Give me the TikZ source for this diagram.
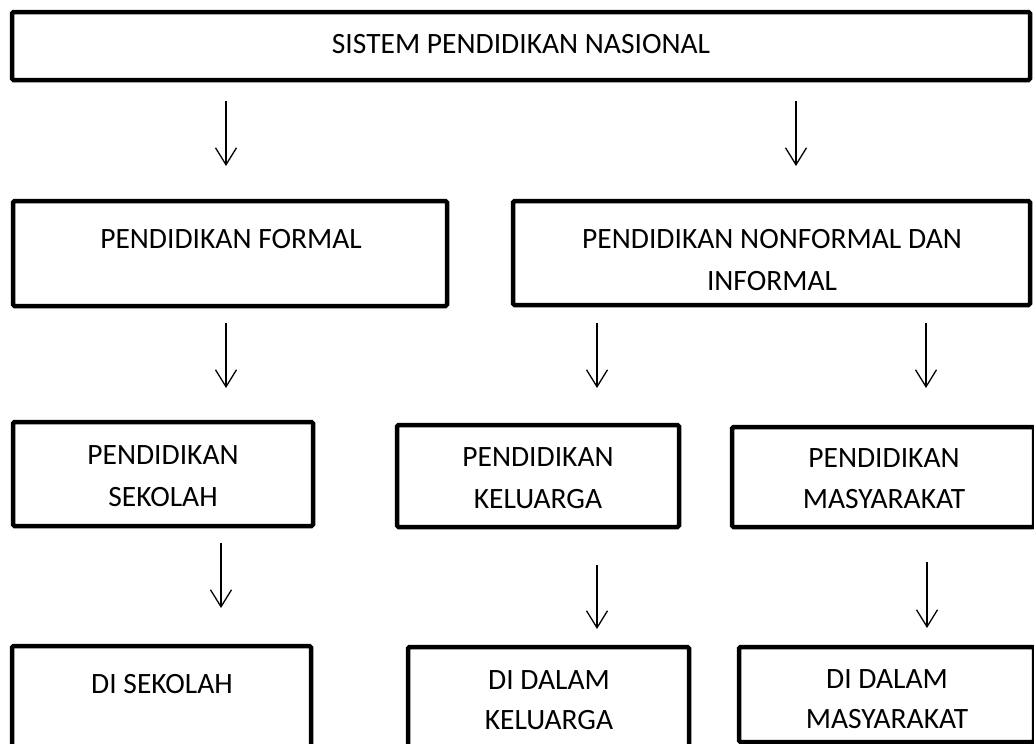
\documentclass[tikz,border=0pt]{standalone}
\usepackage{fontspec}
\setmainfont{Carlito}
\usetikzlibrary{arrows.meta}
\begin{document}
\begin{tikzpicture}[x=1pt,y=-1pt,
  boxst/.style={draw=black,line width=4.5pt,rounded corners=1.5pt},
  txt/.style={anchor=base,inner sep=0pt,font=\fontsize{29.5}{41}\selectfont},
  arr/.style={line width=1.3pt,-{Straight Barb[length=17pt,width=21pt,line width=1.3pt]}}]
\useasboundingbox (0,0) rectangle (1034,744);
% boxes
\draw[boxst] (12,12) rectangle (1030,80);
\draw[boxst] (13,201) rectangle (447,306);
\draw[boxst] (513,201) rectangle (1030,305);
\draw[boxst] (13,422) rectangle (313,526);
\draw[boxst] (397,425) rectangle (679,527);
\draw[boxst] (732,427) rectangle (1034,527);
\draw[boxst] (12,646) rectangle (311,752);
\draw[boxst] (408,647) rectangle (689,752);
\draw[boxst] (739,647) rectangle (1034,742);
% texts
\node[txt] (t1) at (521,53) {SISTEM PENDIDIKAN NASIONAL};
\node[txt] (t2) at (231,248) {PENDIDIKAN FORMAL};
\node[txt] (t3a) at (772,248) {PENDIDIKAN NONFORMAL DAN};
\node[txt] (t3b) at (772,290) {INFORMAL};
\node[txt] (t4a) at (163,464) {PENDIDIKAN};
\node[txt] (t4b) at (163,506) {SEKOLAH};
\node[txt] (t5a) at (538,466) {PENDIDIKAN};
\node[txt] (t5b) at (538,508) {KELUARGA};
\node[txt] (t6a) at (884,467) {PENDIDIKAN};
\node[txt] (t6b) at (884,508) {MASYARAKAT};
\node[txt] (t7) at (162,693) {DI SEKOLAH};
\node[txt] (t8a) at (549,689) {DI DALAM};
\node[txt] (t8b) at (549,729) {KELUARGA};
\node[txt] (t9a) at (887,688) {DI DALAM};
\node[txt] (t9b) at (887,728) {MASYARAKAT};
% arrows
\coordinate (a1s) at (226,101); \coordinate (a1e) at (226,166);
\coordinate (a2s) at (796,101); \coordinate (a2e) at (796,166);
\coordinate (a3s) at (226,323); \coordinate (a3e) at (226,388);
\coordinate (a4s) at (597,323); \coordinate (a4e) at (597,388);
\coordinate (a5s) at (926,323); \coordinate (a5e) at (926,388);
\coordinate (a6s) at (221,543); \coordinate (a6e) at (221,608);
\coordinate (a7s) at (597,565); \coordinate (a7e) at (597,629);
\coordinate (a8s) at (927,562); \coordinate (a8e) at (927,628);
\foreach \i in {1,...,8} {\draw[arr] (a\i s) -- (a\i e);}
\end{tikzpicture}
\end{document}
